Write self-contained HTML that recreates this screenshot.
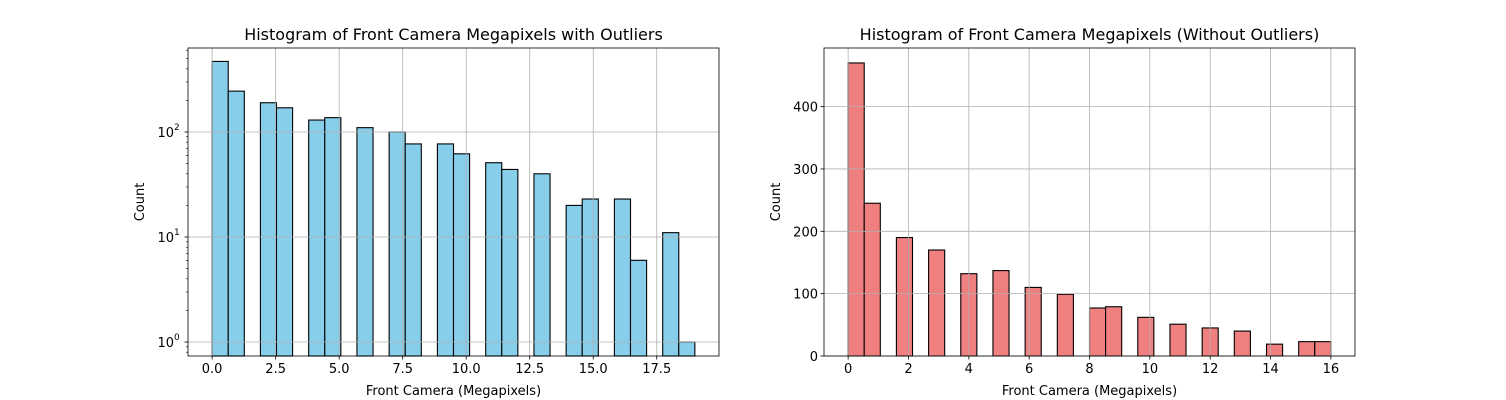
<!DOCTYPE html>
<html><head><meta charset="utf-8"><style>
html,body{margin:0;padding:0;background:#fff}
svg{display:block;font-family:"DejaVu Sans","Liberation Sans",sans-serif}
</style></head><body>
<svg id="c" width="1506" height="400" viewBox="0 0 1506 400"></svg>
<script>
// Left chart (log scale), 30 bins over 0..19
const leftCounts = [470,245,0,190,170,0,130,137,0,110,0,100,77,0,77,62,0,51,44,0,40,0,20,23,0,23,6,0,11,1];
const leftRange = [0,19];
const leftXTicks = [0,2.5,5,7.5,10,12.5,15,17.5];
const leftXTickLabels = ["0.0","2.5","5.0","7.5","10.0","12.5","15.0","17.5"];
const leftYTicks = [1,10,100];
const leftYTickLabels = ["10","10","10"];
const leftYTickExp = ["0","1","2"];
// Right chart (linear), 30 bins over 0..16
const rightCounts = [470,245,0,190,0,170,0,132,0,137,0,110,0,99,0,77,79,0,62,0,51,0,45,0,40,0,19,0,23,23];
const rightRange = [0,16];
const rightXTicks = [0,2,4,6,8,10,12,14,16];
const rightYTicks = [0,100,200,300,400];

const svg = document.getElementById('c');
const NS = 'http://www.w3.org/2000/svg';
function mk(tag, attrs, parent){const e=document.createElementNS(NS,tag);for(const k in attrs)e.setAttribute(k,attrs[k]);(parent||svg).appendChild(e);return e;}
function txt(s, attrs, parent){const e=mk('text',attrs,parent);e.textContent=s;return e;}

function drawChart(o){
  const g = mk('g',{});
  
  
  const L=o.L,R=o.R,T=48,B=356;
  const xs = v => L + (v - o.xmin)/(o.xmax-o.xmin)*(R-L);
  const ys = o.log ? (v => B - (Math.log10(v)-Math.log10(o.ymin))/(Math.log10(o.ymax)-Math.log10(o.ymin))*(B-T))
                   : (v => B - (v-o.ymin)/(o.ymax-o.ymin)*(B-T));
  const n = o.counts.length, w = (o.range[1]-o.range[0])/n;
  const base = o.log ? o.ymin : 0;
  o.counts.forEach((c,i)=>{
    if(c<=0) return;
    const x0=xs(o.range[0]+i*w), x1=xs(o.range[0]+(i+1)*w), y=ys(c), y0=Math.min(ys(base),B);
    const r = mk('rect',{x:x0,y:y,width:x1-x0,height:y0-y,fill:o.color,stroke:'#000','stroke-width':1.1},g);
    
    
  });
  o.xticks.forEach(v=>{ const x=xs(v); mk('line',{x1:x,x2:x,y1:T,y2:B,stroke:'#b0b0b0','stroke-width':0.8},g); });
  o.yticks.forEach(v=>{ const y=ys(v); mk('line',{x1:L,x2:R,y1:y,y2:y,stroke:'#b0b0b0','stroke-width':0.8},g); });
  const f = mk('rect',{x:L,y:T,width:R-L,height:B-T,fill:'none',stroke:'#000','stroke-width':0.8},g);
  
  
  o.xticks.forEach((v,i)=>{ const x=xs(v); mk('line',{x1:x,x2:x,y1:B,y2:B+3.5,stroke:'#000','stroke-width':0.8},g);
    const t=txt(o.xlabels[i],{x:x,y:B+17,'font-size':13,'text-anchor':'middle',fill:'#000'},g);
      });
  o.yticks.forEach((v,i)=>{ const y=ys(v); mk('line',{x1:L-3.5,x2:L,y1:y,y2:y,stroke:'#000','stroke-width':0.8},g);
    let t;
    if(o.log){ t=txt(o.ylabels[i],{x:L-14,y:y+5,'font-size':13,'text-anchor':'end',fill:'#000'},g);
      txt(o.yexp[i],{x:L-14,y:y-2,'font-size':9,'text-anchor':'start',fill:'#000'},g); }
    else t=txt(o.ylabels[i],{x:L-6,y:y+5,'font-size':13,'text-anchor':'end',fill:'#000'},g);
      });
  if(o.log){
    for(let d=-1; d<3; d++) for(let m=2;m<10;m++){ const v=m*Math.pow(10,d); if(v<o.ymin||v>o.ymax) continue; const y=ys(v);
      mk('line',{x1:L-2,x2:L,y1:y,y2:y,stroke:'#000','stroke-width':0.6},g); }
  }
  const tt=txt(o.title,{x:(L+R)/2,y:40,'font-size':16,'text-anchor':'middle',fill:'#000'},g);
   
  const xt=txt('Front Camera (Megapixels)',{x:(L+R)/2,y:395,'font-size':13,'text-anchor':'middle',fill:'#000'},g);
   
  const yt=txt('Count',{x:0,y:0,'font-size':13,'text-anchor':'middle',fill:'#000',transform:`translate(${o.ytx},${(T+B)/2}) rotate(-90)`},g);
   
}

drawChart({name:'left-histogram',L:188,R:719,xmin:-0.95,xmax:19.95,ymin:0.736,ymax:631,log:true,
  counts:leftCounts,range:leftRange,color:'#87ceeb',xticks:leftXTicks,xlabels:leftXTickLabels,
  yticks:leftYTicks,ylabels:leftYTickLabels,yexp:leftYTickExp,ytx:144,
  title:'Histogram of Front Camera Megapixels with Outliers'});
drawChart({name:'right-histogram',L:824,R:1355,xmin:-0.8,xmax:16.8,ymin:0,ymax:494,log:false,
  counts:rightCounts,range:rightRange,color:'#f08080',xticks:rightXTicks,xlabels:rightXTicks.map(String),
  yticks:rightYTicks,ylabels:rightYTicks.map(String),ytx:780,
  title:'Histogram of Front Camera Megapixels (Without Outliers)'});
</script>
</body></html>
